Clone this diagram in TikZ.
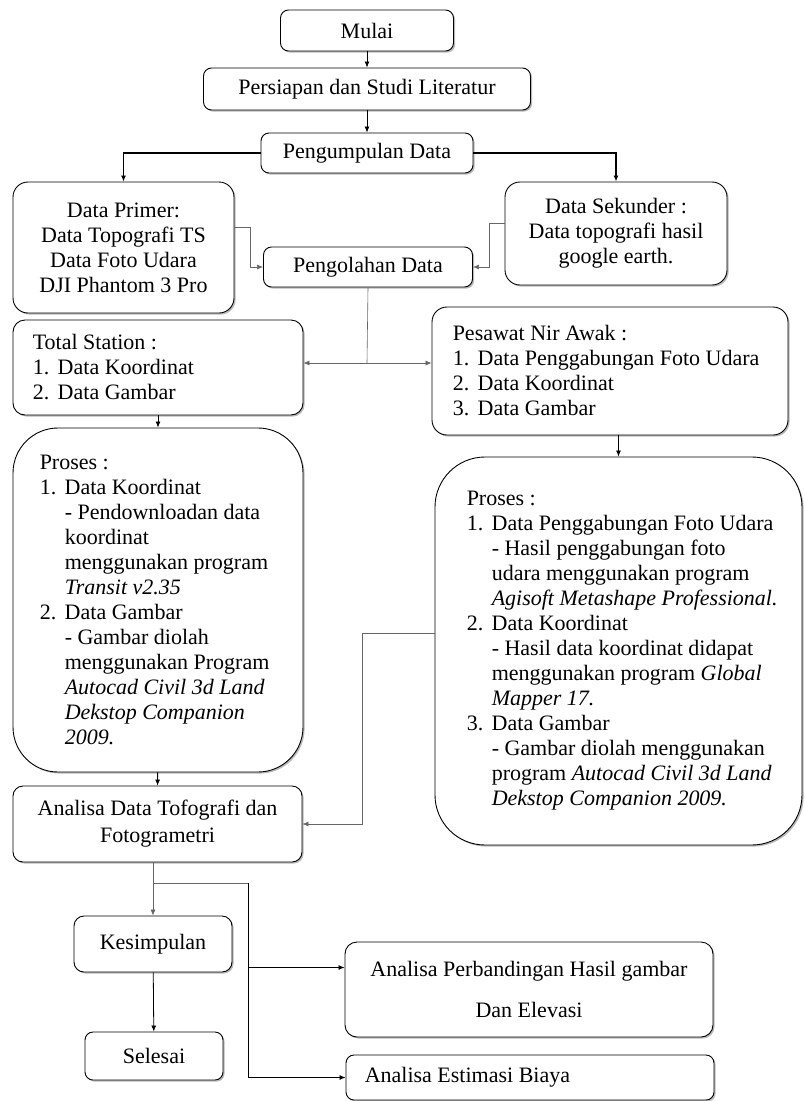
\documentclass[tikz,border=0pt]{standalone}
\usepackage{fontspec}
\setmainfont{Liberation Serif}
\usetikzlibrary{arrows.meta,shadows}

\newcommand\numbox[1]{\makebox[25pt][l]{#1}}
\newcommand\subind{\hspace*{25pt}}

\tikzset{
  box/.style={draw, fill=white, line width=0.9pt, rounded corners=#1,
    drop shadow={shadow xshift=1.6pt, shadow yshift=-1.6pt, fill=black!55}},
  box/.default=8pt,
  listtxt/.style={anchor=west, align=left, inner sep=0pt},
  link/.style={line width=0.8pt, -{Latex[length=6pt,width=5pt]}},
  thinlink/.style={line width=0.6pt, draw=black!60, -{Latex[length=6pt,width=5pt]}},
  thinline/.style={line width=0.6pt, draw=black!60}
}

\begin{document}
\begin{tikzpicture}[x=1pt, y=-1pt, font=\fontsize{22}{25}\selectfont]
\useasboundingbox (0,0) rectangle (804,1101);

% top column
\node[box, minimum width=173pt, minimum height=41pt] (mulai) at (367,30.5) {Mulai};
\node[box, minimum width=327pt, minimum height=42pt] (persiapan) at (367,89) {Persiapan dan Studi Literatur};
\node[box, minimum width=212pt, minimum height=40pt] (kumpul) at (367,153) {Pengumpulan Data};

% data sources
\node[box=15pt, minimum width=221pt, minimum height=131pt, align=center] (primer) at (123.5,247.5)
  {Data Primer:\\Data Topografi TS\\Data Foto Udara\\DJI Phantom 3 Pro};
\node[box=15pt, minimum width=222pt, minimum height=103pt, align=center] (sekunder) at (616,233.5)
  {Data Sekunder :\\Data topografi hasil\\google earth.};
\node[box, minimum width=209pt, minimum height=40pt] (olah) at (368,267) {Pengolahan Data};

% total station side
\node[box=12pt, minimum width=290pt, minimum height=95pt] (total) at (158,367.5) {};
\node[listtxt] (totaltxt) at ([xshift=20pt]total.west)
  {Total Station :\\\numbox{1.}Data Koordinat\\\numbox{2.}Data Gambar};
\node[box=45pt, minimum width=290pt, minimum height=344pt] (prosesL) at (158,600) {};
\node[listtxt] (prosesLtxt) at ([xshift=27pt]prosesL.west)
  {Proses :\\
   \numbox{1.}Data Koordinat\\
   \subind- Pendownloadan data\\
   \subind koordinat\\
   \subind menggunakan program\\
   \subind\textit{Transit v2.35}\\
   \numbox{2.}Data Gambar\\
   \subind- Gambar diolah\\
   \subind menggunakan Program\\
   \subind\textit{Autocad Civil 3d Land}\\
   \subind\textit{Dekstop Companion}\\
   \subind\textit{2009.}};

% drone side
\node[box=15pt, minimum width=356pt, minimum height=128pt] (pesawat) at (610,371) {};
\node[listtxt] (pesawattxt) at ([xshift=21pt]pesawat.west)
  {Pesawat Nir Awak :\\\numbox{1.}Data Penggabungan Foto Udara\\\numbox{2.}Data Koordinat\\\numbox{3.}Data Gambar};
\node[box=50pt, minimum width=367pt, minimum height=388pt] (prosesR) at (618.5,651) {};
\node[listtxt] (prosesRtxt) at ([xshift=32pt]prosesR.west)
  {Proses :\\
   \numbox{1.}Data Penggabungan Foto Udara\\
   \subind- Hasil penggabungan foto\\
   \subind udara menggunakan program\\
   \subind\textit{Agisoft Metashape Professional.}\\
   \numbox{2.}Data Koordinat\\
   \subind- Hasil data koordinat didapat\\
   \subind menggunakan program \textit{Global}\\
   \subind\textit{Mapper 17.}\\
   \numbox{3.}Data Gambar\\
   \subind- Gambar diolah menggunakan\\
   \subind program \textit{Autocad Civil 3d Land}\\
   \subind\textit{Dekstop Companion 2009.}};

% analysis and end
\node[box=10pt, minimum width=289pt, minimum height=76pt, align=center] (analisa) at (157.5,824)
  {Analisa Data Tofografi dan\\[2pt]Fotogrametri};
\node[box=10pt, minimum width=158pt, minimum height=56pt] (kesimpulan) at (153,944) {Kesimpulan};
\node[box, minimum width=138pt, minimum height=48pt] (selesai) at (154,1056) {Selesai};
\node[box=12pt, minimum width=368pt, minimum height=95pt, align=center] (perbandingan) at (529,989.5)
  {Analisa Perbandingan Hasil gambar\\[16pt]Dan Elevasi};
\node[box, minimum width=368pt, minimum height=45pt] (estimasi) at (530,1077.5) {};
\node[listtxt] (estimasitxt) at ([xshift=19pt]estimasi.west) {Analisa Estimasi Biaya};

% connectors
\draw[link] (mulai) -- (persiapan);
\draw[link] (persiapan) -- (kumpul);
\draw[link, line width=1.2pt] (kumpul.west) -| (primer.north);
\draw[link, line width=1.2pt] (kumpul.east) -| (sekunder.north);
\draw[thinlink] ([yshift=20pt]primer.east) -- ++(16,0) |- (olah.west);
\draw[thinlink] ([yshift=10pt]sekunder.west) -- ++(-15,0) |- (olah.east);

\coordinate (split) at (367,363);
\draw[thinline] (olah.south) -- (split);
\draw[thinlink] (split) -- (split -| total.east);
\draw[thinlink] (split) -- (split -| pesawat.west);
\draw[link] (total) -- (prosesL);
\draw[link] (prosesR.north |- pesawat.south) -- (prosesR.north);
\draw[link] (prosesL) -- (analisa);
\draw[thinlink] ([yshift=18pt]prosesR.west) -- ++(-72,0) |- (analisa.east);

\draw[thinlink] (kesimpulan.north |- analisa.south) -- (kesimpulan.north);
\draw[link] (kesimpulan) -- (selesai);
\coordinate (fork) at (248,883);
\coordinate (perbin) at ([yshift=22pt]perbandingan.west);
\draw[thinline] (kesimpulan.north |- fork) -- (fork);
\draw[link] (fork) |- (estimasi.west);
\draw[link] (perbin -| fork) -- (perbin);

\end{tikzpicture}
\end{document}
